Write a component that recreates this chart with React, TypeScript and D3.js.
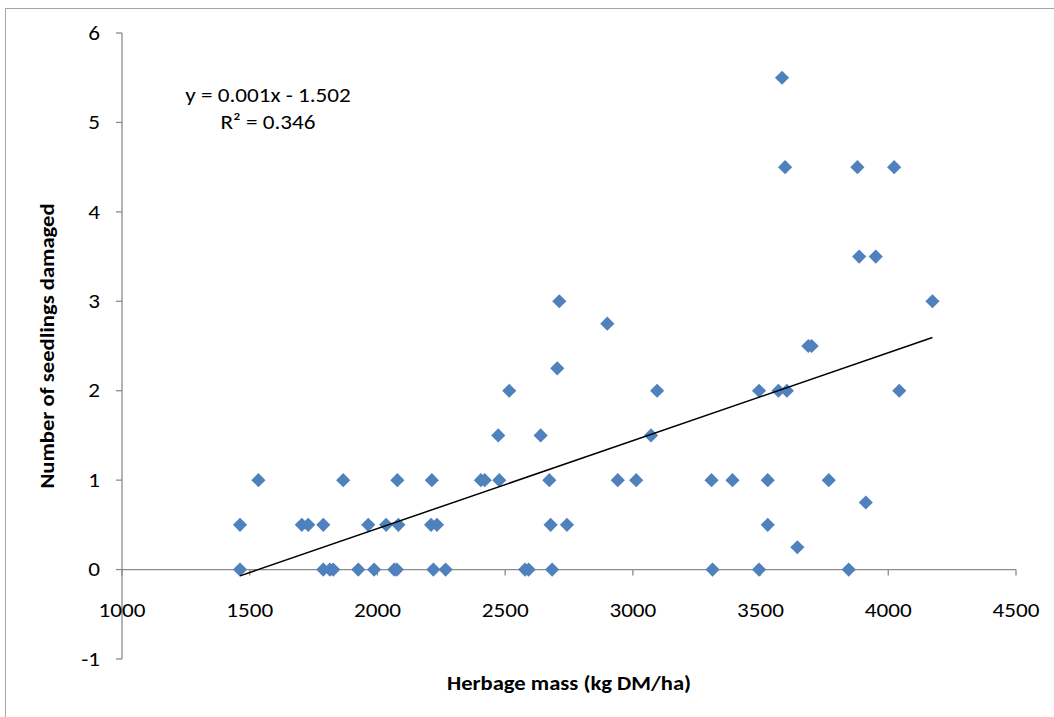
import React, { useEffect, useRef } from 'react';
import * as d3 from 'd3';

// --- Data, grouped by damage count ---
const yLevels = [0, 0.25, 0.5, 0.75, 1, 1.5, 2, 2.25, 2.5, 2.75, 3, 3.5, 4.5, 5.5];
const herbageByLevel = [
  [1462, 1788, 1814, 1827, 1925, 1987, 2066, 2076, 2219, 2267, 2578, 2592, 2684, 3312, 3494, 3845],
  [3644],
  [1462, 1704, 1729, 1788, 1964, 2034, 2082, 2210, 2233, 2678, 2742, 3528],
  [3912],
  [1534, 1866, 2078, 2213, 2405, 2420, 2477, 2673, 2941, 3013, 3308, 3390, 3528, 3767],
  [2473, 2639, 3071],
  [2516, 3095, 3494, 3570, 3603, 4043],
  [2704],
  [3687, 3700],
  [2900],
  [2712, 4173],
  [3886, 3951],
  [3596, 3879, 4023],
  [3584],
];
const xTicks = [1000, 1500, 2000, 2500, 3000, 3500, 4000, 4500];
const yTicks = [-1, 0, 1, 2, 3, 4, 5, 6];
const equationText = 'y = 0.001x - 1.502';
const r2Text = 'R² = 0.346';

const WIDTH = 1054;
const HEIGHT = 717;
const FONT = 'Calibri, Carlito, "Open Sans", sans-serif';
// the reference text is a bit wider than Carlito, stretch it horizontally
const SX = 1.13;

function ScatterChart() {
  const svgRef = useRef<SVGSVGElement | null>(null);

  useEffect(() => {
    const svg = d3.select(svgRef.current);
    svg.selectAll('*').remove();

    const points = yLevels.flatMap((y, i) => herbageByLevel[i].map(x => ({ x, y })));

    const x = d3.scaleLinear().domain([1000, 4500]).range([122, 1016]);
    const y = d3.scaleLinear().domain([-1, 6]).range([659, 33]);

    // outer chart frame
    svg.append('rect')
      .attr('x', 5.5).attr('y', 8.5)
      .attr('width', WIDTH + 20).attr('height', HEIGHT + 20)
      .attr('fill', 'white')
      .attr('stroke', '#a6a6a6');

    const axisColor = '#8c8c8c';

    // y axis line + ticks
    svg.append('line')
      .attr('x1', x(1000)).attr('x2', x(1000))
      .attr('y1', y(6)).attr('y2', y(-1))
      .attr('stroke', axisColor).attr('stroke-width', 1.3);
    svg.append('g').selectAll('line')
      .data(yTicks).join('line')
      .attr('x1', x(1000) - 6).attr('x2', x(1000))
      .attr('y1', d => y(d)).attr('y2', d => y(d))
      .attr('stroke', axisColor).attr('stroke-width', 1.3);
    svg.append('g').selectAll('text')
      .data(yTicks).join('text')
      .attr('transform', d => `translate(100,${y(d)}) scale(${SX},1)`)
      .attr('dy', '0.33em')
      .attr('text-anchor', 'end')
      .attr('font-family', FONT).attr('font-size', 20.5)
      .text(d => d);

    // x axis sits at y = 0
    svg.append('line')
      .attr('x1', x(1000)).attr('x2', x(4500))
      .attr('y1', y(0)).attr('y2', y(0))
      .attr('stroke', axisColor).attr('stroke-width', 1.3);
    svg.append('g').selectAll('line')
      .data(xTicks).join('line')
      .attr('x1', d => x(d)).attr('x2', d => x(d))
      .attr('y1', y(0)).attr('y2', y(0) + 6)
      .attr('stroke', axisColor).attr('stroke-width', 1.3);
    svg.append('g').selectAll('text')
      .data(xTicks).join('text')
      .attr('transform', d => `translate(${x(d)},617) scale(${SX},1)`)
      .attr('text-anchor', 'middle')
      .attr('font-family', FONT).attr('font-size', 20.5)
      .text(d => d);

    // markers
    const diamond = d3.symbol().type(d3.symbolDiamond2).size(128);
    svg.append('g').selectAll('path')
      .data(points).join('path')
      .attr('transform', d => `translate(${x(d.x)},${y(d.y)})`)
      .attr('d', diamond)
      .attr('fill', '#4f81bd');

    // linear trendline (least squares over the points)
    const mx = d3.mean(points, d => d.x) as number;
    const my = d3.mean(points, d => d.y) as number;
    const sxy = d3.sum(points, d => (d.x - mx) * (d.y - my));
    const sxx = d3.sum(points, d => (d.x - mx) ** 2);
    const slope = sxy / sxx;
    const icpt = my - slope * mx;
    const [xmin, xmax] = d3.extent(points, d => d.x) as [number, number];
    svg.append('line')
      .attr('x1', x(xmin)).attr('y1', y(icpt + slope * xmin))
      .attr('x2', x(xmax)).attr('y2', y(icpt + slope * xmax))
      .attr('stroke', 'black').attr('stroke-width', 1.5);

    // equation label
    svg.append('text')
      .attr('transform', `translate(268,102) scale(${SX},1)`)
      .attr('text-anchor', 'middle')
      .attr('font-family', FONT).attr('font-size', 20.5)
      .text(equationText);
    svg.append('text')
      .attr('transform', `translate(268,129) scale(${SX},1)`)
      .attr('text-anchor', 'middle')
      .attr('font-family', FONT).attr('font-size', 20.5)
      .text(r2Text);

    // axis titles
    svg.append('text')
      .attr('transform', `translate(569,690) scale(${SX},1)`)
      .attr('text-anchor', 'middle')
      .attr('font-family', FONT).attr('font-size', 20).attr('font-weight', 'bold')
      .text('Herbage mass (kg DM/ha)');
    svg.append('text')
      .attr('transform', `translate(54,${(y(6) + y(-1)) / 2}) rotate(-90) scale(${SX},1)`)
      .attr('text-anchor', 'middle')
      .attr('font-family', FONT).attr('font-size', 20).attr('font-weight', 'bold')
      .text('Number of seedlings damaged');
  }, []);

  return <svg ref={svgRef} width={WIDTH} height={HEIGHT} style={{ display: 'block' }} />;
}

export default function App() {
  return (
    <div style={{ position: 'absolute', left: 0, top: 0 }}>
      <ScatterChart />
    </div>
  );
}
